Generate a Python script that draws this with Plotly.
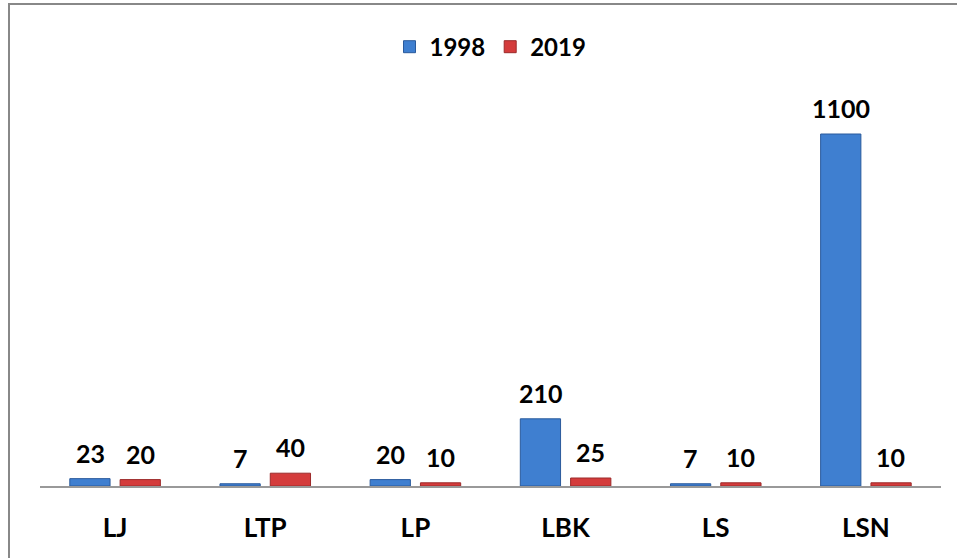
import plotly.graph_objects as go

categories = ["LJ", "LTP", "LP", "LBK", "LS", "LSN"]
values_1998 = [23, 7, 20, 210, 7, 1100]
values_2019 = [20, 40, 10, 25, 10, 10]

FONT = "Lato"

fig = go.Figure()
fig.add_trace(go.Bar(
    x=categories, y=values_1998, name="1998",
    marker=dict(color="#3f7fd0", line=dict(color="#2a5a9c", width=1)),
))
fig.add_trace(go.Bar(
    x=categories, y=values_2019, name="2019",
    marker=dict(color="#d43c3c", line=dict(color="#9c2a2a", width=1)),
))

# value labels sitting above each bar
annotations = []
for series, shift in ((values_1998, -25), (values_2019, 25)):
    for cat, val in zip(categories, series):
        annotations.append(dict(
            x=cat, y=val, text=f"<b>{val}</b>", showarrow=False,
            xshift=shift, yshift=26,
            font=dict(family=FONT, size=25, color="black"),
        ))

fig.update_layout(
    width=957, height=558,
    margin=dict(l=40, r=16, t=102, b=72),
    barmode="group", bargap=0.33, bargroupgap=0.2,
    plot_bgcolor="white", paper_bgcolor="white",
    font=dict(family=FONT, color="black"),
    xaxis=dict(
        showline=True, linecolor="#999999", linewidth=2,
        showgrid=False, ticks="", ticklabelstandoff=18,
        tickfont=dict(family=FONT, size=26, weight="bold", color="black"),
    ),
    yaxis=dict(range=[0, 1200], visible=False),
    legend=dict(
        orientation="h", x=0.5, xanchor="center",
        y=1.143, yanchor="middle",
        font=dict(family=FONT, size=24, weight="bold", color="black"),
        itemwidth=30,
    ),
    annotations=annotations,
    shapes=[dict(
        type="rect", xref="paper", yref="paper",
        x0=-0.0344, x1=1.2, y0=-0.5, y1=1.255,
        line=dict(color="#888888", width=2),
    )],
)

fig.write_html(
    "out.html",
    config={"displayModeBar": False},
    post_script="document.body.style.margin='0';",
)
